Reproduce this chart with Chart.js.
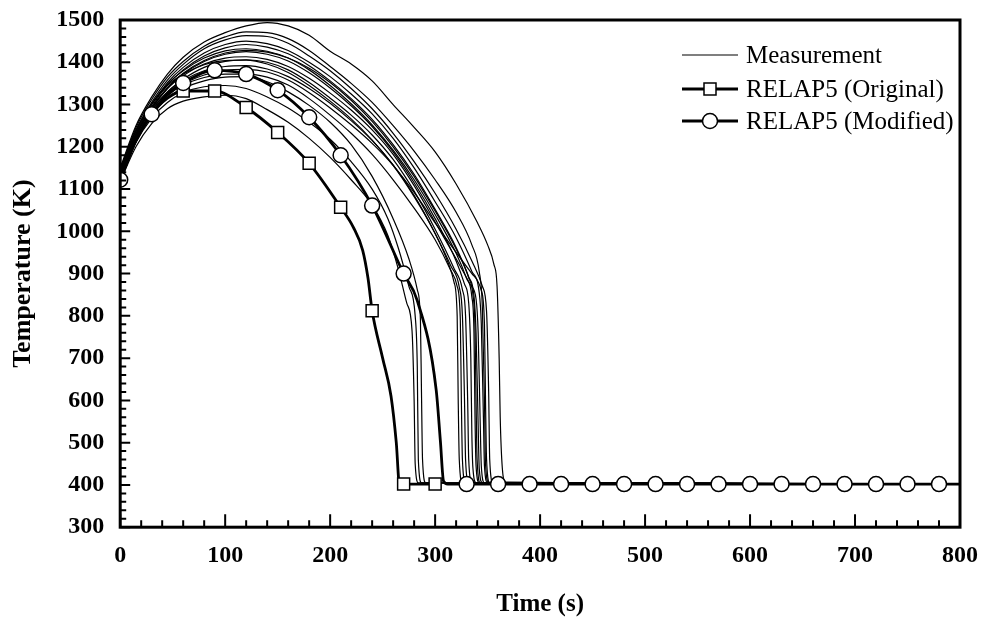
<!DOCTYPE html>
<html>
<head>
<meta charset="utf-8">
<title>Temperature vs Time</title>
<script src="https://cdn.jsdelivr.net/npm/chart.js@4.4.0/dist/chart.umd.min.js"></script>
<style>
  html, body { margin: 0; padding: 0; background: #fff; }
  #wrap { width: 993px; height: 621px; }
</style>
</head>
<body>
<div id="wrap"><canvas id="tempChart" width="993" height="621"></canvas></div>
<script>
// axis ranges and labels
const xMin = 0, xMax = 800, xStep = 100;
const yMin = 300, yMax = 1500, yStep = 100;
const xTitle = 'Time (s)';
const yTitle = 'Temperature (K)';
const legendLabels = ['Measurement', 'RELAP5 (Original)', 'RELAP5 (Modified)'];

// measured thermocouple traces, [time s, temperature K]
const m01 = [[0,1150],[15,1250],[30,1318],[45,1372],[60,1412],[80,1448],[100,1470],[120,1486],[140,1494],[160,1486],[180,1464],[200,1426],[220,1396],[240,1356],[260,1300],[280,1246],[300,1188],[320,1112],[340,1022],[350,968],[356,922],[359,870],[361,700],[362,560],[364,440],[367,406],[800,402]];
const m02 = [[0,1145],[15,1245],[30,1312],[45,1365],[60,1402],[80,1438],[100,1460],[120,1472],[140,1470],[160,1456],[180,1428],[200,1390],[220,1350],[240,1305],[260,1250],[280,1190],[300,1122],[320,1045],[335,968],[342,905],[345,820],[347,600],[348,450],[351,406],[800,402]];
const m03 = [[0,1140],[15,1238],[30,1305],[45,1358],[60,1395],[80,1432],[100,1453],[120,1463],[140,1461],[160,1445],[180,1415],[200,1380],[220,1338],[240,1290],[260,1232],[280,1165],[300,1090],[320,1005],[335,930],[345,870],[349,810],[351,620],[352,460],[355,406],[800,402]];
const m04 = [[0,1135],[15,1232],[30,1300],[45,1352],[60,1388],[80,1422],[100,1442],[120,1450],[140,1444],[160,1428],[180,1400],[200,1366],[220,1325],[240,1278],[260,1220],[280,1150],[300,1070],[320,985],[335,905],[342,855],[344,780],[346,560],[347,445],[350,405],[800,402]];
const m05 = [[0,1130],[15,1228],[30,1295],[45,1346],[60,1382],[80,1415],[100,1434],[120,1442],[140,1436],[160,1420],[180,1392],[200,1356],[220,1314],[240,1265],[260,1205],[280,1135],[300,1052],[320,962],[332,892],[337,848],[339,760],[341,540],[342,440],[345,405],[800,402]];
const m06 = [[0,1142],[15,1236],[30,1300],[45,1348],[60,1380],[80,1410],[100,1427],[120,1432],[140,1426],[160,1410],[180,1382],[200,1345],[220,1302],[240,1252],[260,1192],[280,1122],[300,1040],[320,948],[330,888],[335,845],[337,760],[338,560],[339,445],[342,405],[800,402]];
const m07 = [[0,1128],[15,1225],[30,1290],[45,1338],[60,1372],[80,1402],[100,1419],[120,1425],[140,1419],[160,1403],[180,1375],[200,1339],[220,1297],[240,1248],[260,1188],[280,1115],[300,1030],[320,930],[328,875],[332,830],[334,700],[335,520],[336,440],[339,405],[800,402]];
const m08 = [[0,1138],[15,1230],[30,1292],[45,1338],[60,1368],[80,1396],[100,1410],[120,1413],[140,1407],[160,1390],[180,1362],[200,1327],[220,1287],[240,1240],[260,1182],[280,1108],[300,1022],[320,935],[334,872],[339,840],[341,760],[343,540],[344,445],[347,405],[800,402]];
const m09 = [[0,1125],[15,1220],[30,1285],[45,1330],[60,1360],[80,1388],[100,1402],[120,1406],[140,1400],[160,1382],[180,1352],[200,1315],[220,1275],[240,1228],[260,1170],[280,1095],[300,1005],[318,912],[326,862],[329,800],[331,600],[332,460],[335,405],[800,402]];
const m10 = [[0,1135],[15,1226],[30,1288],[45,1330],[60,1357],[80,1380],[100,1390],[120,1392],[140,1384],[160,1366],[180,1338],[200,1303],[220,1262],[240,1215],[260,1157],[280,1085],[300,995],[315,918],[323,868],[326,800],[328,600],[329,460],[332,405],[800,402]];
const m11 = [[0,1122],[15,1215],[30,1278],[45,1320],[60,1348],[80,1370],[100,1381],[120,1383],[140,1377],[160,1358],[180,1328],[200,1292],[220,1252],[240,1208],[260,1156],[280,1092],[300,1020],[320,950],[335,900],[344,860],[347,780],[348,600],[349,460],[352,405],[800,402]];
const m12 = [[0,1132],[15,1222],[30,1282],[45,1322],[60,1346],[80,1364],[100,1372],[120,1372],[140,1365],[160,1346],[180,1314],[200,1275],[220,1232],[240,1182],[260,1122],[280,1055],[300,980],[314,912],[321,870],[324,790],[325,600],[326,460],[329,405],[800,402]];
const m13 = [[0,1148],[15,1240],[30,1302],[45,1345],[60,1372],[80,1394],[100,1404],[120,1405],[140,1396],[160,1376],[180,1345],[200,1308],[220,1266],[240,1216],[260,1156],[280,1082],[300,995],[312,928],[318,880],[321,800],[322,600],[323,460],[326,405],[800,402]];
const m14 = [[0,1130],[15,1228],[30,1292],[45,1340],[60,1374],[80,1404],[100,1422],[120,1428],[140,1424],[160,1410],[180,1386],[200,1352],[220,1310],[240,1260],[260,1200],[280,1130],[300,1048],[320,958],[332,890],[336,850],[338,770],[339,600],[340,460],[343,405],[800,402]];
const m15 = [[0,1128],[15,1218],[30,1276],[45,1315],[60,1338],[80,1356],[100,1365],[120,1366],[140,1354],[160,1330],[180,1298],[200,1258],[220,1205],[240,1130],[260,1030],[275,935],[283,862],[286,790],[287,620],[288,460],[291,405],[800,402]];
const m16 = [[0,1120],[15,1210],[30,1268],[45,1305],[60,1328],[80,1342],[100,1345],[120,1338],[140,1318],[160,1292],[180,1258],[200,1218],[220,1165],[240,1100],[255,1030],[265,960],[275,870],[281,800],[283,680],[284,460],[287,405],[800,402]];
const m17 = [[0,1118],[15,1200],[30,1255],[45,1290],[60,1308],[80,1318],[100,1322],[120,1314],[140,1288],[160,1258],[180,1220],[200,1175],[220,1122],[240,1062],[255,990],[265,910],[273,830],[278,765],[280,600],[281,450],[284,405],[800,402]];
const measured = [m01, m02, m03, m04, m05, m06, m07, m08, m09, m10, m11, m12, m13, m14, m15, m16, m17];

// RELAP5 original model
const original = [[0,1122],[15,1215],[30,1277],[45,1315],[60,1332],[90,1332],[120,1293],[150,1234],[180,1161],[210,1057],[222,1010],[231,955],[236,890],[240,812],[250,700],[258,610],[263,500],[266,402],[270,402],[300,402]];
const originalMarks = [60, 90, 120, 150, 180, 210, 240, 270, 300];

// RELAP5 modified model
const modified = [[0,1122],[15,1215],[30,1277],[45,1325],[60,1351],[90,1381],[120,1372],[150,1334],[180,1270],[210,1180],[240,1061],[270,900],[283,836],[301,625],[305,504],[308,409],[312,402],[330,402],[360,402],[390,402],[420,402],[450,402],[480,402],[510,402],[540,402],[570,402],[600,402],[630,402],[660,402],[690,402],[720,402],[750,402],[780,402],[800,402]];
const modifiedMarks = [0, 30, 60, 90, 120, 150, 180, 210, 240, 270, 300, 330, 360, 390, 420, 450, 480, 510, 540, 570, 600, 630, 660, 690, 720, 750, 780];

Chart.defaults.font.family = "'Liberation Serif', 'Times New Roman', serif";
Chart.defaults.color = '#000';

// measurement lines: thin, no markers
const datasets = measured.map((d, i) => ({
    label: i === 0 ? legendLabels[0] : '',
    data: d,
    borderColor: '#000',
    borderWidth: 1.2,
    pointRadius: 0,
    cubicInterpolationMode: 'monotone',
    order: 2
}));

datasets.push({
    label: legendLabels[1],
    data: original,
    borderColor: '#000',
    borderWidth: 2.8,
    pointStyle: 'rect',
    pointRadius: c => originalMarks.includes(c.raw[0]) ? 8.5 : 0,
    pointBackgroundColor: '#fff',
    pointBorderColor: '#000',
    pointBorderWidth: 1.5,
    cubicInterpolationMode: 'monotone',
    order: 1
});

datasets.push({
    label: legendLabels[2],
    data: modified,
    borderColor: '#000',
    borderWidth: 2.8,
    pointStyle: 'circle',
    pointRadius: c => modifiedMarks.includes(c.raw[0]) ? 7.5 : 0,
    pointBackgroundColor: '#fff',
    pointBorderColor: '#000',
    pointBorderWidth: 1.5,
    cubicInterpolationMode: 'monotone',
    order: 0
});

// frame, inward tick marks and the legend (line + marker samples)
const framePlugin = {
    id: 'framePlugin',
    afterDraw(chart) {
        const {ctx, chartArea: a, scales: {x, y}} = chart;
        ctx.save();
        ctx.strokeStyle = '#000';
        ctx.lineWidth = 2;
        ctx.beginPath();
        for (let v = xMin; v <= xMax; v += 20) {
            const px = x.getPixelForValue(v);
            const len = v % 100 === 0 ? 13 : 7;
            ctx.moveTo(px, a.bottom);
            ctx.lineTo(px, a.bottom - len);
        }
        for (let v = yMin; v <= yMax; v += 20) {
            const py = y.getPixelForValue(v);
            const len = v % 100 === 0 ? 10 : 6;
            ctx.moveTo(a.left, py);
            ctx.lineTo(a.left + len, py);
        }
        ctx.stroke();
        ctx.lineWidth = 3;
        ctx.strokeRect(a.left, a.top, a.right - a.left, a.bottom - a.top);

        // legend
        const x0 = a.right - 278, x1 = a.right - 222, xm = (x0 + x1) / 2;
        const rows = [a.top + 35, a.top + 69, a.top + 101];
        ctx.font = "25px 'Liberation Serif', serif";
        ctx.textBaseline = 'middle';
        ctx.fillStyle = '#000';
        rows.forEach((ry, i) => {
            ctx.lineWidth = i === 0 ? 1.2 : 2.8;
            ctx.beginPath();
            ctx.moveTo(x0, ry);
            ctx.lineTo(x1, ry);
            ctx.stroke();
            ctx.lineWidth = 1.5;
            if (i === 1) {
                ctx.fillStyle = '#fff';
                ctx.fillRect(xm - 6, ry - 6, 12, 12);
                ctx.strokeRect(xm - 6, ry - 6, 12, 12);
            } else if (i === 2) {
                ctx.fillStyle = '#fff';
                ctx.beginPath();
                ctx.arc(xm, ry, 7.5, 0, Math.PI * 2);
                ctx.fill();
                ctx.stroke();
            }
            ctx.fillStyle = '#000';
            ctx.fillText(legendLabels[i], x1 + 8, ry + 1);
        });
        ctx.restore();
    }
};

const ctx = document.getElementById('tempChart').getContext('2d');
const chart = new Chart(ctx, {
    type: 'line',
    data: { datasets: datasets },
    options: {
        responsive: false,
        animation: false,
        events: [],
        layout: { padding: { left: 4, top: 20, right: 33, bottom: 0 } },
        plugins: {
            legend: { display: false },
            tooltip: { enabled: false }
        },
        scales: {
            x: {
                type: 'linear',
                min: xMin,
                max: xMax,
                grid: { display: false, drawTicks: false },
                border: { display: false },
                ticks: {
                    stepSize: xStep,
                    padding: 14,
                    font: { size: 24, weight: 'bold' },
                    callback: v => String(v)
                },
                title: {
                    display: true,
                    text: xTitle,
                    font: { size: 25, weight: 'bold' },
                    padding: { top: 6, bottom: 1 }
                }
            },
            y: {
                min: yMin,
                max: yMax,
                grid: { display: false, drawTicks: false },
                border: { display: false },
                ticks: {
                    stepSize: yStep,
                    padding: 16,
                    font: { size: 24, weight: 'bold' },
                    callback: v => String(v)
                },
                title: {
                    display: true,
                    text: yTitle,
                    font: { size: 26, weight: 'bold' },
                    padding: { top: 4, bottom: 1 }
                },
                // label overflow at the top only needs half a line
                afterFit: s => { s.paddingTop = 15; }
            }
        }
    },
    plugins: [framePlugin]
});
</script>
</body>
</html>
